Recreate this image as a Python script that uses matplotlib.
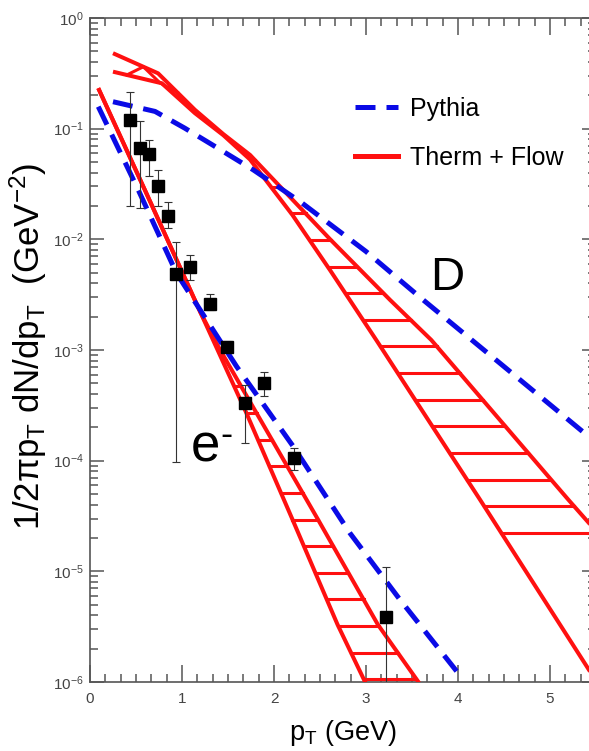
import numpy as np
import matplotlib
matplotlib.use("Agg")
import matplotlib.pyplot as plt
from matplotlib.ticker import FixedLocator, MultipleLocator, FuncFormatter, NullFormatter
from matplotlib.lines import Line2D

# measured electrons
e_pt = [0.44, 0.54, 0.645, 0.74, 0.845, 0.94, 1.09, 1.30, 1.49, 1.69, 1.895, 2.217, 3.217]
e_val = [0.12, 0.067, 0.059, 0.030, 0.0163, 0.0049, 0.0056, 0.0026, 1.07e-3, 3.3e-4, 5.0e-4, 1.05e-4, 3.9e-6]
e_lo = [0.020, 0.019, 0.037, 0.020, 0.0127, 9.8e-5, 0.0043, 0.0023, 9.5e-4, 1.44e-4, 3.8e-4, 8.3e-5, 8.0e-7]
e_hi = [0.216, 0.116, 0.079, 0.042, 0.0219, 0.0095, 0.0072, 0.0032, 1.2e-3, 4.8e-4, 6.3e-4, 1.3e-4, 1.1e-5]

# Pythia curves
pyth_e_pt = [0.09, 0.525, 0.94, 1.594, 2.21, 2.826, 3.37, 4.02]
pyth_e_val = [0.158, 0.0279, 4.94e-3, 7.08e-4, 1.34e-4, 2.21e-5, 5.53e-6, 1.15e-6]
pyth_d_pt = [0.25, 0.707, 1.03, 1.36, 1.775, 2.3, 3.0, 3.62, 4.5, 5.42, 5.6]
pyth_d_val = [0.175, 0.143, 0.101, 0.0689, 0.0424, 0.0214, 7.76e-3, 2.84e-3, 7.08e-4, 1.65e-4, 1.23e-4]

# thermal + flow bands (two edges each)
tf_e_lo_pt = [0.09, 0.60, 1.20, 1.70, 2.20, 2.69, 2.99, 3.05]
tf_e_lo_val = [0.232, 0.0275, 2.19e-3, 2.69e-4, 2.95e-5, 3.31e-6, 1.0e-6, 8.0e-7]
tf_e_hi_pt = [0.09, 0.60, 1.20, 1.40, 1.81, 2.48, 3.13, 3.57, 3.62]
tf_e_hi_val = [0.232, 0.0275, 2.19e-3, 1.05e-3, 2.69e-4, 2.92e-5, 3.29e-6, 1.0e-6, 8.5e-7]

tf_d_lo_pt = [0.25, 0.78, 1.14, 1.45, 1.74, 2.2, 2.61, 3.12, 4.24, 5.40, 5.6]
tf_d_lo_val = [0.327, 0.257, 0.138, 0.0871, 0.0525, 0.0166, 5.25e-3, 1.20e-3, 4.43e-5, 1.38e-6, 7.6e-7]
tf_d_hi_pt = [0.25, 0.74, 1.14, 1.45, 1.74, 2.61, 3.26, 3.71, 5.01, 5.2, 5.6]
tf_d_hi_val = [0.480, 0.316, 0.148, 0.0891, 0.0578, 0.0100, 2.84e-3, 1.23e-3, 6.76e-5, 4.43e-5, 1.86e-5]

# hatch spacing (decades) and the first hatch level of each band
hatch_step = 0.2405
e_hatch_start, e_hatch_n = -3.089, 13
d_hatch_start, d_hatch_n = -1.285, 21
# zigzag strokes in the wide top part of the D band
zig_pt = [0.40, 0.58, 0.76, 0.95]
zig_edge = ["lo", "hi", "lo", "hi"]

SANS = ["Liberation Sans", "DejaVu Sans"]
plt.rcParams["font.family"] = SANS
plt.rcParams["mathtext.default"] = "regular"

RED = "#ff1010"
BLUE = "#0a0ae6"
GREY = "#555555"

fig = plt.figure(figsize=(5.89, 7.51), dpi=100)
ax = fig.add_axes([0.1528, 0.0919, 0.8591, 0.8842])
ax.set_yscale("log")
ax.set_xlim(0, 5.5)
ax.set_ylim(1e-6, 1)


def log_interp(level, pts, vals):
    lv = np.log10(vals)[::-1]
    return np.interp(np.log10(level), lv, np.asarray(pts)[::-1], left=np.nan, right=np.nan)


def draw_band(lo_pt, lo_val, hi_pt, hi_val, start, n):
    ax.plot(lo_pt, lo_val, color=RED, lw=2.9, zorder=3, solid_capstyle="butt")
    ax.plot(hi_pt, hi_val, color=RED, lw=2.9, zorder=3, solid_capstyle="butt")
    for k in range(n):
        level = 10 ** (start - k * hatch_step)
        xl = log_interp(level, lo_pt, lo_val)
        xr = log_interp(level, hi_pt, hi_val)
        if np.isfinite(xl) and np.isfinite(xr) and xr > xl:
            ax.plot([xl, xr], [level, level], color=RED, lw=2.2, zorder=3)


draw_band(tf_e_lo_pt, tf_e_lo_val, tf_e_hi_pt, tf_e_hi_val, e_hatch_start, e_hatch_n)
draw_band(tf_d_lo_pt, tf_d_lo_val, tf_d_hi_pt, tf_d_hi_val, d_hatch_start, d_hatch_n)

zx, zy = [], []
for p, edge in zip(zig_pt, zig_edge):
    pts, vals = (tf_d_lo_pt, tf_d_lo_val) if edge == "lo" else (tf_d_hi_pt, tf_d_hi_val)
    zx.append(p)
    zy.append(10 ** np.interp(p, pts, np.log10(vals)))
ax.plot(zx, zy, color=RED, lw=2.2, zorder=3)

dash = (0, (4, 2.2))
ax.plot(pyth_e_pt, pyth_e_val, color=BLUE, lw=3.6, ls=dash, zorder=4)
ax.plot(pyth_d_pt, pyth_d_val, color=BLUE, lw=3.6, ls=dash, zorder=4)

e_val_a = np.array(e_val)
yerr = [e_val_a - np.array(e_lo), np.array(e_hi) - e_val_a]
ax.errorbar(e_pt, e_val, yerr=yerr, fmt="s", color="black", ms=8.5, ecolor="#333333",
            elinewidth=0.8, capsize=3, capthick=0.8, zorder=5)

# axes styling
for s in ax.spines.values():
    s.set_color(GREY)
    s.set_linewidth(1.2)
ax.xaxis.set_major_locator(MultipleLocator(1))
ax.xaxis.set_minor_locator(MultipleLocator(1 / 6))
ax.yaxis.set_major_locator(FixedLocator([10.0 ** k for k in range(-6, 1)]))
ax.yaxis.set_minor_locator(FixedLocator([m * 10.0 ** k for k in range(-6, 0) for m in range(2, 10)]))
ax.yaxis.set_minor_formatter(NullFormatter())
ax.yaxis.set_major_formatter(FuncFormatter(lambda v, _: "10$^{%d}$" % round(np.log10(v))))
ax.xaxis.set_major_formatter(FuncFormatter(lambda v, _: "%d" % round(v)))
ax.tick_params(which="both", direction="in", top=True, right=True, color=GREY,
               labelcolor="#444444", labelsize=11, width=1.1)
ax.tick_params(axis="x", which="major", length=12, pad=7)
ax.tick_params(axis="x", which="minor", length=6)
ax.tick_params(axis="y", which="major", length=10, pad=4.5)
ax.tick_params(axis="y", which="minor", length=6)

ax.set_xlabel("p$_T$ (GeV)", fontsize=19.5, labelpad=9)
ax.set_ylabel("1/2πp$_T$ dN/dp$_T$  (GeV$^{-2}$)", fontsize=25)
ax.yaxis.set_label_coords(-0.082, 0.505)

ax.text(3.70, 10 ** -2.457, "D", fontsize=34, ha="left", va="baseline")
ax.text(1.09, 10 ** -4.01, "e", fontsize=38, ha="left", va="baseline")
ax.text(1.42, 10 ** -3.77, "-", fontsize=26, ha="left", va="center")

handles = [Line2D([], [], color=BLUE, lw=3.6, ls=dash),
           Line2D([], [], color=RED, lw=3.6)]
ax.legend(handles, ["Pythia", "Therm + Flow"], loc="upper left", bbox_to_anchor=(0.524, 0.881),
          frameon=False, fontsize=18, handlelength=1.7, handletextpad=0.5,
          labelspacing=1.0, borderpad=0, borderaxespad=0)

fig.savefig("out.png", dpi=100)
